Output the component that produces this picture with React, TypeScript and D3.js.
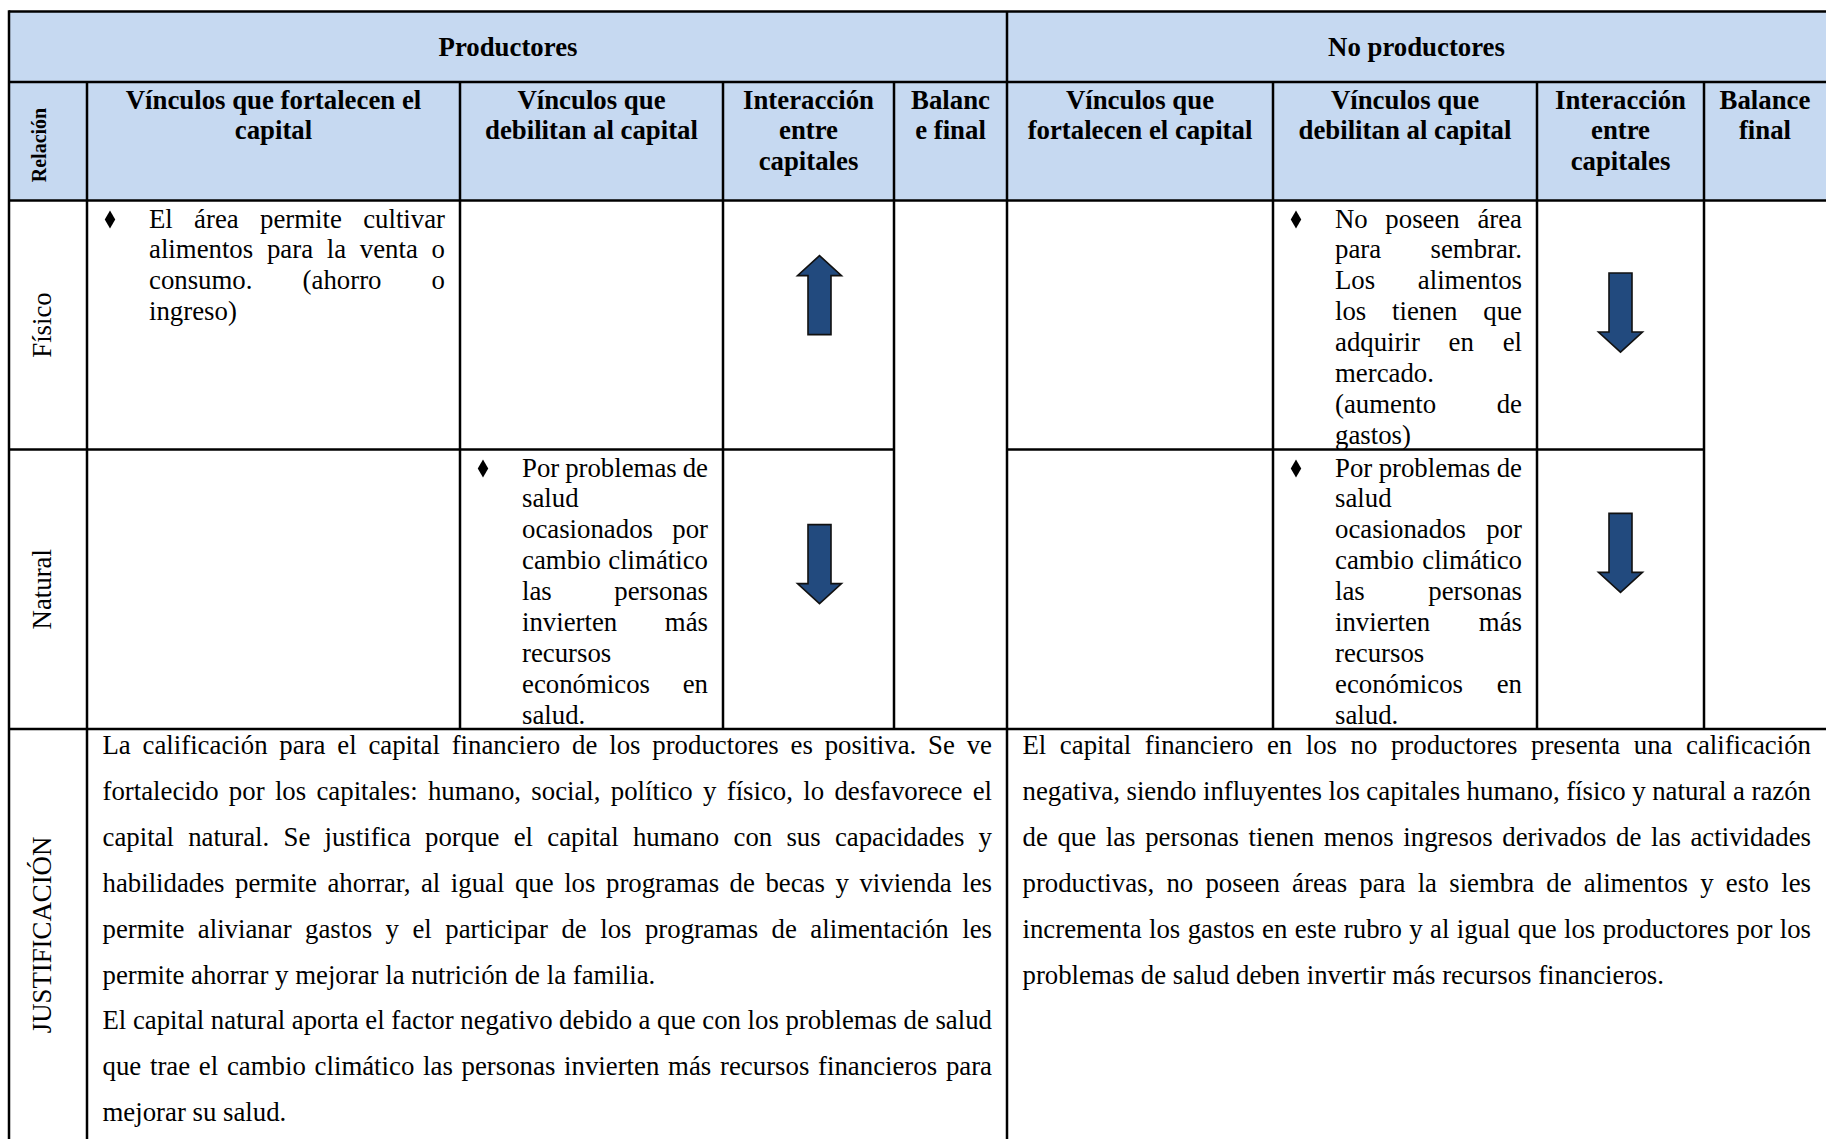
import React from 'react';
import { line, symbol, symbolDiamond, scaleOrdinal } from 'd3';

// ---- data (text content of the table) ----
const groups = ['Productores', 'No productores'];
const rowLabels = ['Físico', 'Natural'];

const subHeaders = [
    [['Vínculos que fortalecen el', 'capital'], ['Vínculos que', 'debilitan al capital'], ['Interacción', 'entre', 'capitales'], ['Balanc', 'e final']],
    [['Vínculos que', 'fortalecen el capital'], ['Vínculos que', 'debilitan al capital'], ['Interacción', 'entre', 'capitales'], ['Balance', 'final']],
];

const prodFortFisico = ['El área permite cultivar', 'alimentos para la venta o', 'consumo. (ahorro o', 'ingreso)'];
const saludLines = ['Por problemas de', 'salud', 'ocasionados por', 'cambio climático', 'las personas', 'invierten más', 'recursos', 'económicos en', 'salud.'];
const noProdDebFisico = ['No poseen área', 'para sembrar.', 'Los alimentos', 'los tienen que', 'adquirir en el', 'mercado.', '(aumento de', 'gastos)'];

// which group / row / kind (0 fortalecen, 1 debilitan) each bullet goes into
const bulletCells = [
    { group: 0, row: 0, kind: 0, lines: prodFortFisico },
    { group: 0, row: 1, kind: 1, lines: saludLines },
    { group: 1, row: 0, kind: 1, lines: noProdDebFisico },
    { group: 1, row: 1, kind: 1, lines: saludLines },
];

// interacción entre capitales: [group][row]
const interaction = [['up', 'down'], ['down', 'down']];

const justLeft = [
    [
        'La calificación para el capital financiero de los productores es positiva. Se ve',
        'fortalecido por los capitales: humano, social, político y físico, lo desfavorece el',
        'capital natural. Se justifica porque el capital humano con sus capacidades y',
        'habilidades permite ahorrar, al igual que los programas de becas y vivienda les',
        'permite alivianar gastos y el participar de los programas de alimentación les',
        'permite ahorrar y mejorar la nutrición de la familia.',
    ],
    [
        'El capital natural aporta el factor negativo debido a que con los problemas de salud',
        'que trae el cambio climático las personas invierten más recursos financieros para',
        'mejorar su salud.',
    ],
];
const justRight = [
    [
        'El capital financiero en los no productores presenta una calificación',
        'negativa, siendo influyentes los capitales humano, físico y natural a razón',
        'de que las personas tienen menos ingresos derivados de las actividades',
        'productivas, no poseen áreas para la siembra de alimentos y esto les',
        'incrementa los gastos en este rubro y al igual que los productores por los',
        'problemas de salud deben invertir más recursos financieros.',
    ],
];

// ---- layout ----
const W = 1826;
const H = 1139;
const colEdges = [9, 87, 460, 723, 894, 1007, 1273, 1537, 1704, 1827];
const rowEdges = [11.6, 82, 200.5, 449.5, 729, 1160];
// vertical placement of each arrow inside its cell, [group][row], as share of the cell height
const arrowPos = [[0.38, 0.41], [0.45, 0.37]];
const FONT = "'Liberation Serif', 'Times New Roman', serif";
const FS = 26.8;
const LH = 30.9;
const JLH = 45.9;
const HEAD_BG = '#C6D9F1';
const ARROW_FILL = '#224A7E';

const ctx = document.createElement('canvas').getContext('2d');
const measure = (s, weight = 'normal', size = FS) => {
    ctx.font = `${weight} ${size}px ${FONT}`;
    return ctx.measureText(s).width;
};

// group index -> first column index
const groupCol = scaleOrdinal().domain([0, 1]).range([1, 5]);

const JustLine = ({ text, x0, x1, y, justify }) => {
    const words = text.split(' ');
    const widths = words.map(w => measure(w));
    const total = widths.reduce((a, b) => a + b, 0);
    const space = measure(' ');
    const gap = justify && words.length > 1 ? (x1 - x0 - total) / (words.length - 1) : space;
    let x = x0;
    return (
        <g>
            {words.map((w, i) => {
                const el = <text key={i} x={x} y={y}>{w}</text>;
                x += widths[i] + gap;
                return el;
            })}
        </g>
    );
};

const Paragraphs = ({ paras, x0, x1, y0, lh }) => {
    let k = 0;
    return (
        <g>
            {paras.map((p, pi) => p.map((t, li) => {
                const y = y0 + (k++) * lh;
                return <JustLine key={`${pi}-${li}`} text={t} x0={x0} x1={x1} y={y} justify={li < p.length - 1} />;
            }))}
        </g>
    );
};

const arrowPath = (dir) => {
    const h = 79, hh = 20, hw = 22, sw = 11.5;
    const s = dir === 'up' ? 1 : -1;
    const pts = [[0, -h / 2], [hw, -h / 2 + hh], [sw, -h / 2 + hh], [sw, h / 2], [-sw, h / 2], [-sw, -h / 2 + hh], [-hw, -h / 2 + hh]]
        .map(([x, y]) => [x, y * s]);
    return line()(pts) + 'Z';
};

const diamond = symbol().type(symbolDiamond).size(95)();

export default function App() {
    const left = colEdges[0];
    const right = colEdges[colEdges.length - 1];
    const labelX = 42;

    return (
        <svg width={W} height={H} style={{ position: 'absolute', left: 0, top: 0, background: '#fff' }}
            fontFamily={FONT} fontSize={FS} fill="#000">
            <rect x={left} y={rowEdges[0]} width={right - left} height={rowEdges[2] - rowEdges[0]} fill={HEAD_BG} />

            {/* group headers */}
            {groups.map((g, gi) => {
                const a = gi === 0 ? colEdges[0] : colEdges[5];
                const b = gi === 0 ? colEdges[5] : colEdges[9] - 1;
                return <text key={g} x={(a + b) / 2} y={56} textAnchor="middle" fontWeight="bold">{g}</text>;
            })}

            {/* sub headers */}
            {subHeaders.map((cols, gi) => cols.map((lines, ci) => {
                const c = groupCol(gi) + ci;
                const cx = (colEdges[c] + Math.min(colEdges[c + 1], W)) / 2;
                return (
                    <text key={`${gi}-${ci}`} textAnchor="middle" fontWeight="bold">
                        {lines.map((t, li) => <tspan key={li} x={cx} y={108.5 + li * LH}>{t}</tspan>)}
                    </text>
                );
            }))}

            <text transform={`translate(${labelX - 3},${145}) rotate(-90)`} textAnchor="middle" dominantBaseline="central"
                fontWeight="bold" fontSize={20}>Relación</text>

            {/* row labels */}
            {rowLabels.map((r, ri) => (
                <text key={r} transform={`translate(${labelX},${(rowEdges[ri + 2] + rowEdges[ri + 3]) / 2}) rotate(-90)`}
                    textAnchor="middle" dominantBaseline="central">{r}</text>
            ))}
            <text transform={`translate(${labelX},${935}) rotate(-90)`} textAnchor="middle" dominantBaseline="central">JUSTIFICACIÓN</text>

            {/* bullet cells */}
            {bulletCells.map((d, i) => {
                const c = groupCol(d.group) + d.kind;
                const x0 = colEdges[c];
                const x1 = colEdges[c + 1];
                const top = rowEdges[d.row + 2];
                const y0 = top + 27;
                return (
                    <g key={i}>
                        <path d={diamond} transform={`translate(${x0 + 23},${y0 - 8})`} />
                        {d.lines.map((t, li) => (
                            <JustLine key={li} text={t} x0={x0 + 62} x1={x1 - 15} y={y0 + li * LH}
                                justify={li < d.lines.length - 1} />
                        ))}
                    </g>
                );
            })}

            {/* arrows */}
            {interaction.map((rows, gi) => rows.map((dir, ri) => {
                const c = groupCol(gi) + 2;
                const cx = (colEdges[c] + colEdges[c + 1]) / 2 + (gi === 0 ? 11 : 0);
                const top = rowEdges[ri + 2];
                const cy = top + (rowEdges[ri + 3] - top) * arrowPos[gi][ri];
                return (
                    <path key={`${gi}-${ri}`} d={arrowPath(dir)} transform={`translate(${cx},${cy})`}
                        fill={ARROW_FILL} stroke="#111" strokeWidth={1.6} strokeLinejoin="miter" />
                );
            }))}

            {/* justification */}
            <Paragraphs paras={justLeft} x0={colEdges[1] + 15.5} x1={colEdges[5] - 15} y0={rowEdges[4] + 25} lh={JLH} />
            <Paragraphs paras={justRight} x0={colEdges[5] + 15.5} x1={W - 15} y0={rowEdges[4] + 25} lh={JLH} />

            {/* grid */}
            <g stroke="#000" strokeWidth={2.5}>
                {[0, 1, 2, 4].map(r => <line key={r} x1={left} x2={right} y1={rowEdges[r]} y2={rowEdges[r]} />)}
                <line x1={left} x2={colEdges[4]} y1={rowEdges[3]} y2={rowEdges[3]} />
                <line x1={colEdges[5]} x2={colEdges[8]} y1={rowEdges[3]} y2={rowEdges[3]} />
                <line x1={colEdges[0]} x2={colEdges[0]} y1={rowEdges[0] - 1.25} y2={H} />
                <line x1={colEdges[5]} x2={colEdges[5]} y1={rowEdges[0]} y2={H} />
                <line x1={colEdges[1]} x2={colEdges[1]} y1={rowEdges[1]} y2={H} />
                {[2, 3, 4, 6, 7, 8].map(c => <line key={c} x1={colEdges[c]} x2={colEdges[c]} y1={rowEdges[1]} y2={rowEdges[4]} />)}
            </g>
        </svg>
    );
}
